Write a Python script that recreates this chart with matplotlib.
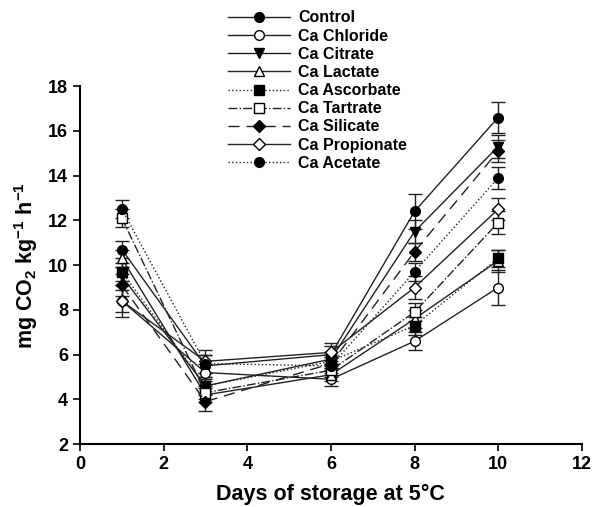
import matplotlib
matplotlib.use('Agg')
import matplotlib.pyplot as plt

plt.rcParams['font.family'] = ['Liberation Sans', 'DejaVu Sans']
plt.rcParams['font.weight'] = 'bold'
plt.rcParams['mathtext.fontset'] = 'custom'
plt.rcParams['mathtext.rm'] = 'Liberation Sans:bold'
plt.rcParams['mathtext.bf'] = 'Liberation Sans:bold'

days = [1, 3, 6, 8, 10]
treatments = ['Control', 'Ca Chloride', 'Ca Citrate', 'Ca Lactate', 'Ca Ascorbate',
              'Ca Tartrate', 'Ca Silicate', 'Ca Propionate', 'Ca Acetate']

control = [10.7, 5.5, 6.0, 12.4, 16.6]
chloride = [8.4, 5.2, 4.9, 6.6, 9.0]
citrate = [9.5, 4.6, 5.8, 11.5, 15.3]
lactate = [10.3, 4.2, 5.1, 7.6, 10.2]
ascorbate = [9.7, 4.6, 5.7, 7.3, 10.3]
tartrate = [12.1, 4.3, 5.3, 7.9, 11.9]
silicate = [9.1, 3.9, 5.6, 10.6, 15.1]
propionate = [8.4, 5.7, 6.1, 9.0, 12.5]
acetate = [12.5, 5.6, 5.5, 9.7, 13.9]

control_err = [0.4, 0.5, 0.4, 0.8, 0.7]
chloride_err = [0.5, 0.4, 0.3, 0.4, 0.8]
citrate_err = [0.4, 0.4, 0.3, 0.5, 0.5]
lactate_err = [0.4, 0.3, 0.3, 0.4, 0.5]
ascorbate_err = [0.4, 0.3, 0.3, 0.4, 0.4]
tartrate_err = [0.4, 0.3, 0.3, 0.4, 0.5]
silicate_err = [0.5, 0.4, 0.3, 0.4, 0.5]
propionate_err = [0.7, 0.5, 0.4, 0.5, 0.5]
acetate_err = [0.4, 0.4, 0.4, 0.4, 0.5]

values = [control, chloride, citrate, lactate, ascorbate, tartrate, silicate, propionate, acetate]
errors = [control_err, chloride_err, citrate_err, lactate_err, ascorbate_err,
          tartrate_err, silicate_err, propionate_err, acetate_err]
markers = ['o', 'o', 'v', '^', 's', 's', 'D', 'D', 'o']
fills = ['k', 'w', 'k', 'w', 'k', 'w', 'k', 'w', 'k']
styles = ['-', '-', '-', '-', ':', '-.', (0, (8, 5)), '-', ':']

fig = plt.figure(figsize=(5.93, 5.07), dpi=100)
ax = fig.add_axes([0.135, 0.124, 0.846, 0.706])

handles = []
for name, v, e, m, f, ls in zip(treatments, values, errors, markers, fills, styles):
    ms = 6.5 if m == 'D' else 7
    cont = ax.errorbar(days, v, yerr=e, label=name, color='#222222', lw=1.0, ls=ls,
                       marker=m, ms=ms, mfc=f, mec='k', mew=1.0,
                       ecolor='#222222', elinewidth=1.0, capsize=5, capthick=1.0)
    handles.append(cont[0])

ax.set_xlim(0, 12)
ax.set_ylim(2, 18)
ax.set_xticks(range(0, 13, 2))
ax.set_yticks(range(2, 19, 2))
ax.spines['top'].set_visible(False)
ax.spines['right'].set_visible(False)
ax.spines['left'].set_linewidth(1.5)
ax.spines['bottom'].set_linewidth(1.5)
ax.tick_params(direction='out', length=5, width=1.2, labelsize=13)
for t in ax.get_xticklabels() + ax.get_yticklabels():
    t.set_fontweight('bold')

ax.set_xlabel('Days of storage at 5°C', fontsize=15.5, fontweight='bold', labelpad=8)
ax.set_ylabel(r'mg CO$_\mathbf{2}$ kg$^\mathbf{-1}$ h$^\mathbf{-1}$', fontsize=15.5,
              fontweight='bold', labelpad=6)

fig.legend(handles, treatments, loc='upper left', bbox_to_anchor=(0.36, 1.008),
           frameon=False, handlelength=3.9, handletextpad=0.5,
           labelspacing=0.2, prop={'weight': 'bold', 'size': 11.5})

fig.savefig('out.png', dpi=100)
